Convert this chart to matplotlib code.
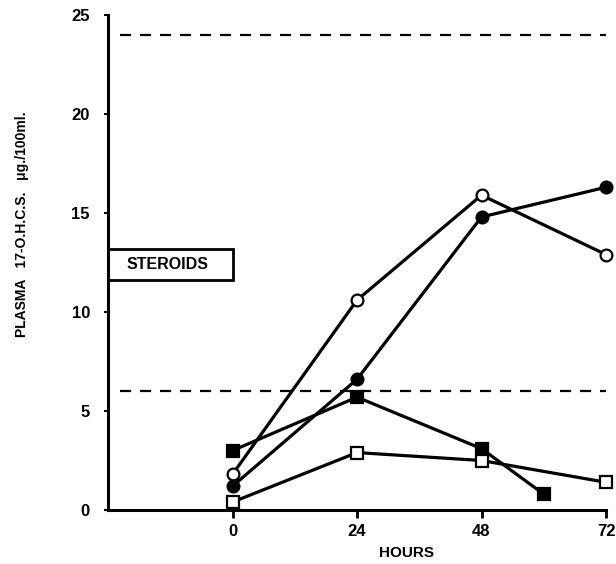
import matplotlib
matplotlib.use("Agg")
import matplotlib.pyplot as plt
from matplotlib.patches import Rectangle

plt.rcParams['font.family'] = ['Liberation Sans', 'DejaVu Sans']

# data (hours after injection, plasma 17-OHCS ug/100ml)
hours = [0, 24, 48, 72]
hours_sq_filled = [0, 24, 48, 60]
open_circle = [1.8, 10.6, 15.9, 12.9]
filled_circle = [1.2, 6.6, 14.8, 16.3]
filled_square = [3.0, 5.7, 3.1, 0.8]
open_square = [0.4, 2.9, 2.5, 1.4]

normal_upper = 24
normal_lower = 6
x_ticks = [0, 24, 48, 72]
y_ticks = [0, 5, 10, 15, 20, 25]

fig = plt.figure(figsize=(6.16, 5.64), dpi=100)
ax = fig.add_axes([108 / 616, 54 / 564, 498 / 616, 495 / 564])

ax.set_xlim(-24, 72)
ax.set_ylim(0, 25)

# normal range (dashed)
ax.hlines([normal_upper, normal_lower], -21.7, 72, colors='black',
          linestyles=(0, (5, 4)), linewidth=1.6)

line_kw = dict(color='black', linewidth=2.3, markersize=8.5, clip_on=False,
               markeredgewidth=1.6, zorder=3)
ax.plot(hours, open_circle, marker='o', markerfacecolor='white', **line_kw)
ax.plot(hours, filled_circle, marker='o', markerfacecolor='black', **line_kw)
ax.plot(hours_sq_filled, filled_square, marker='s', markerfacecolor='black', **line_kw)
ax.plot(hours, open_square, marker='s', markerfacecolor='white', **line_kw)

# label box
ax.add_patch(Rectangle((-24, 11.6), 24, 1.6, fill=False, edgecolor='black',
                       linewidth=2, clip_on=False, zorder=4))
ax.text(-12.5, 12.4, 'STEROIDS', ha='center', va='center',
        fontsize=11.5, fontweight='bold')

ax.spines['top'].set_visible(False)
ax.spines['right'].set_visible(False)
ax.spines['left'].set_linewidth(2.2)
ax.spines['bottom'].set_linewidth(2.2)

ax.set_xticks(x_ticks)
ax.set_xticklabels([str(t) for t in x_ticks], fontsize=12, fontweight='bold')
ax.set_yticks(y_ticks)
ax.set_yticklabels([str(t) for t in y_ticks], fontsize=12, fontweight='bold')
ax.tick_params(axis='x', direction='out', length=6, width=2, pad=4)
ax.tick_params(axis='y', direction='out', length=3, width=1.5, pad=10)

fig.text(407 / 616, 11 / 564, 'HOURS', ha='center', va='center',
         fontsize=11, fontweight='bold')
fig.text(22 / 616, 1 - 224 / 564, 'PLASMA   17-O.H.C.S.   \u03bcg./100ml.',
         rotation=90, ha='center', va='center', fontsize=10, fontweight='bold')

fig.savefig('out.png', dpi=100)
